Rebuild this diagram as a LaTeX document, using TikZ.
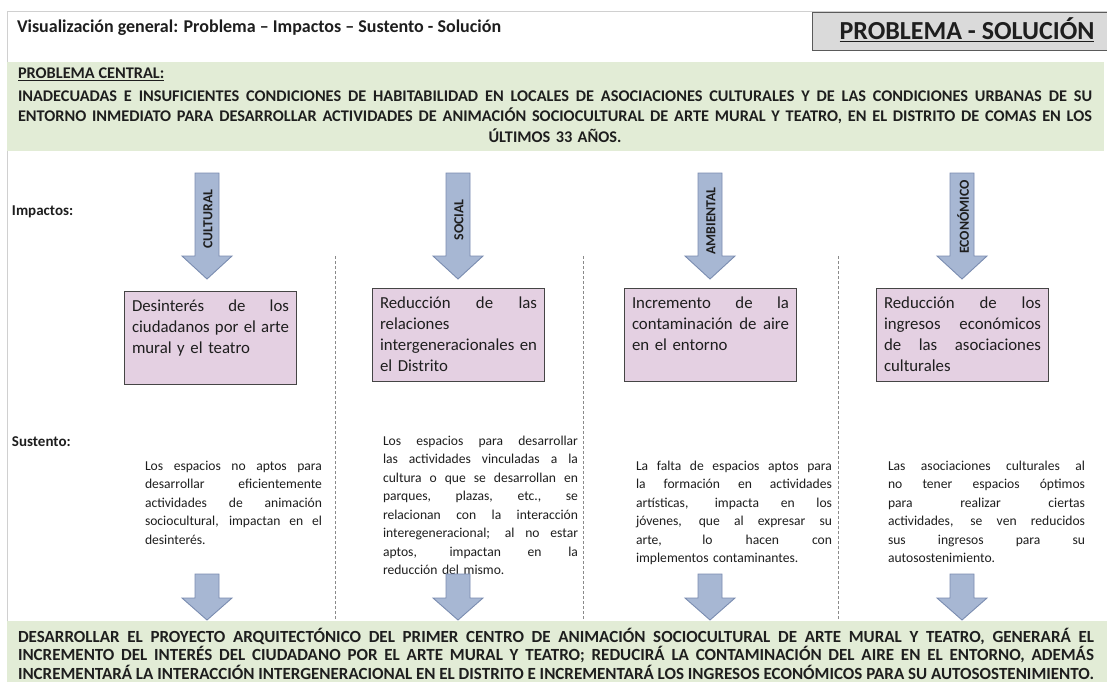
\documentclass[tikz,border=0pt]{standalone}
\usepackage{fontspec}
\setmainfont{Carlito}
\definecolor{txt}{HTML}{1E1E1E}
\definecolor{bandgreen}{HTML}{E2ECD6}
\definecolor{boxfill}{HTML}{E4D0E2}
\definecolor{boxline}{HTML}{454545}
\definecolor{arrfill}{HTML}{A7B7D3}
\definecolor{arrline}{HTML}{7A8CB0}
\definecolor{titlefill}{HTML}{DADADA}
\definecolor{titleline}{HTML}{5A5A5A}
\definecolor{framegray}{HTML}{D0D0D0}
\definecolor{dashgray}{HTML}{8A8A8A}
\newcommand\fs[2]{\fontsize{#1}{#2}\selectfont}
\newcommand\J[1]{\leavevmode\hbox to\hsize{\spaceskip=0.226em plus 1fil minus 0.12em\xspaceskip=\spaceskip #1}}
\newcommand\N[1]{\leavevmode\hbox to\hsize{\spaceskip=0.226em minus 0.1em\xspaceskip=\spaceskip #1\hfil}}
\newcommand\C[1]{\leavevmode\hbox to\hsize{\hfil #1\hfil}}
\newcommand\downarr[4]{%
  \draw[arrowst] (#1-12,#2) -- (#1+12,#2) -- (#1+12,#3) -- (#1+25,#3) -- (#1,#4) -- (#1-25,#3) -- (#1-12,#3) -- cycle;}
\hbadness=10000
\hfuzz=30pt
\tikzset{
  ftxt/.style={inner sep=0pt, outer sep=0pt, text=txt},
  arrowst/.style={fill=arrfill, draw=arrline, line width=0.9pt, line join=miter},
  pbox/.style={fill=boxfill, draw=boxline, line width=1.1pt, anchor=north west, inner sep=0pt},
  boxtxt/.style={ftxt, anchor=base west, text width=157, align=left, font=\fs{16.8}{21}},
  sustxt/.style={ftxt, anchor=base west, align=left, font=\fs{13.6}{18.5}},
  arrlabel/.style={ftxt, rotate=90, font=\fs{13.8}{15}\bfseries},
  dashln/.style={draw=dashgray, line width=0.8pt, dash pattern=on 3pt off 2pt},
}
\begin{document}
\begin{tikzpicture}[x=1pt,y=-1pt]
\useasboundingbox (0,0) rectangle (1107,682);
\fill[white] (0,0) rectangle (1107,682);
% frame
\draw[framegray, line width=1pt] (7,682) -- (7,12) -- (1107,12);
% title
\node[ftxt, anchor=base west, font=\fs{18}{22}\bfseries] (title) at (17,33) {Visualización general: Problema – Impactos – Sustento - Solución};
\node[fill=titlefill, draw=titleline, line width=1pt, anchor=north west, minimum width=310, minimum height=38, inner sep=0pt] (tbox) at (812,12) {};
\node[ftxt, anchor=base, font=\fs{26}{30}\bfseries] (ttext) at (967,40) {\underline{PROBLEMA - SOLUCIÓN}};
% problem band
\fill[bandgreen] (7,62) rectangle (1104,151);
\node[ftxt, anchor=base west, font=\fs{16.3}{20}\bfseries] (pch) at (18,79) {\underline{PROBLEMA CENTRAL:}};
\node[ftxt, anchor=base west, text width=1074, align=left, font=\fs{16.3}{20}\bfseries] (pc) at (18,102) {%
\J{INADECUADAS E INSUFICIENTES CONDICIONES DE HABITABILIDAD EN LOCALES DE ASOCIACIONES CULTURALES Y DE LAS CONDICIONES URBANAS DE SU}\\
\J{ENTORNO INMEDIATO PARA DESARROLLAR ACTIVIDADES DE ANIMACIÓN SOCIOCULTURAL DE ARTE MURAL Y TEATRO, EN EL DISTRITO DE COMAS EN LOS}\\
\C{ÚLTIMOS 33 AÑOS.}};
% labels
\node[ftxt, anchor=base west, font=\fs{15}{18}\bfseries] (imp) at (12,215) {Impactos:};
\node[ftxt, anchor=base west, font=\fs{15}{18}\bfseries] (sus) at (12,446) {Sustento:};
% dashed separators
\draw[dashln] (335,256) -- (335,620);
\draw[dashln] (583,256) -- (583,620);
\draw[dashln] (838,256) -- (838,620);
% top arrows
\downarr{207}{173}{256}{279}
\downarr{458}{173}{256}{279}
\downarr{710}{173}{256}{279}
\downarr{962}{173}{256}{279}
\node[arrlabel] (a1) at (208,219) {CULTURAL};
\node[arrlabel] (a2) at (459,220) {SOCIAL};
\node[arrlabel] (a3) at (711,221) {AMBIENTAL};
\node[arrlabel] (a4) at (963,217) {ECONÓMICO};
% impact boxes
\node[pbox, minimum width=172, minimum height=93] (b1) at (124,291) {};
\node[pbox, minimum width=172, minimum height=93] (b2) at (372,288) {};
\node[pbox, minimum width=172, minimum height=93] (b3) at (624,288) {};
\node[pbox, minimum width=172, minimum height=93] (b4) at (876,288) {};
\node[boxtxt] (b1t) at (132,311) {\J{Desinterés de los}\\ \J{ciudadanos por el arte}\\ mural y el teatro};
\node[boxtxt] (b2t) at (380,308) {\J{Reducción de las}\\ relaciones\\ \J{intergeneracionales en}\\ el Distrito};
\node[boxtxt] (b3t) at (632,308) {\J{Incremento de la}\\ \J{contaminación de aire}\\ en el entorno};
\node[boxtxt] (b4t) at (884,308) {\J{Reducción de los}\\ \J{ingresos económicos}\\ \J{de las asociaciones}\\ culturales};
% sustento texts
\node[sustxt, text width=177] (s1) at (145,470) {\J{Los espacios no aptos para}\\ \J{desarrollar eficientemente}\\ \J{actividades de animación}\\ \J{sociocultural, impactan en el}\\ desinterés.};
\node[sustxt, text width=195] (s2) at (383,445) {\J{Los espacios para desarrollar}\\ \J{las actividades vinculadas a la}\\ \J{cultura o que se desarrollan en}\\ \J{parques, plazas, etc., se}\\ \J{relacionan con la interacción}\\ \J{interegeneracional; al no estar}\\ \J{aptos, impactan en la}\\ reducción del mismo.};
\node[sustxt, text width=196] (s3) at (636,470) {\J{La falta de espacios aptos para}\\ \J{la formación en actividades}\\ \J{artísticas, impacta en los}\\ \J{jóvenes, que al expresar su}\\ \J{arte, lo hacen con}\\ implementos contaminantes.};
\node[sustxt, text width=197] (s4) at (888,470) {\J{Las asociaciones culturales al}\\ \J{no tener espacios óptimos}\\ \J{para realizar ciertas}\\ \J{actividades, se ven reducidos}\\ \J{sus ingresos para su}\\ autosostenimiento.};
% bottom arrows
\downarr{207}{574}{598}{620}
\downarr{458}{574}{598}{620}
\downarr{710}{574}{598}{620}
\downarr{962}{574}{598}{620}
% solution band
\fill[bandgreen] (7,621) rectangle (1107,682);
\node[ftxt, anchor=base west, text width=1076, align=left, font=\fs{17}{18.5}\bfseries] (sol) at (18,642) {%
\J{DESARROLLAR EL PROYECTO ARQUITECTÓNICO DEL PRIMER CENTRO DE ANIMACIÓN SOCIOCULTURAL DE ARTE MURAL Y TEATRO, GENERARÁ EL}\\
\J{INCREMENTO DEL INTERÉS DEL CIUDADANO POR EL ARTE MURAL Y TEATRO; REDUCIRÁ LA CONTAMINACIÓN DEL AIRE EN EL ENTORNO, ADEMÁS}\\
\N{INCREMENTARÁ LA INTERACCIÓN INTERGENERACIONAL EN EL DISTRITO E INCREMENTARÁ LOS INGRESOS ECONÓMICOS PARA SU AUTOSOSTENIMIENTO.}};
\end{tikzpicture}
\end{document}
